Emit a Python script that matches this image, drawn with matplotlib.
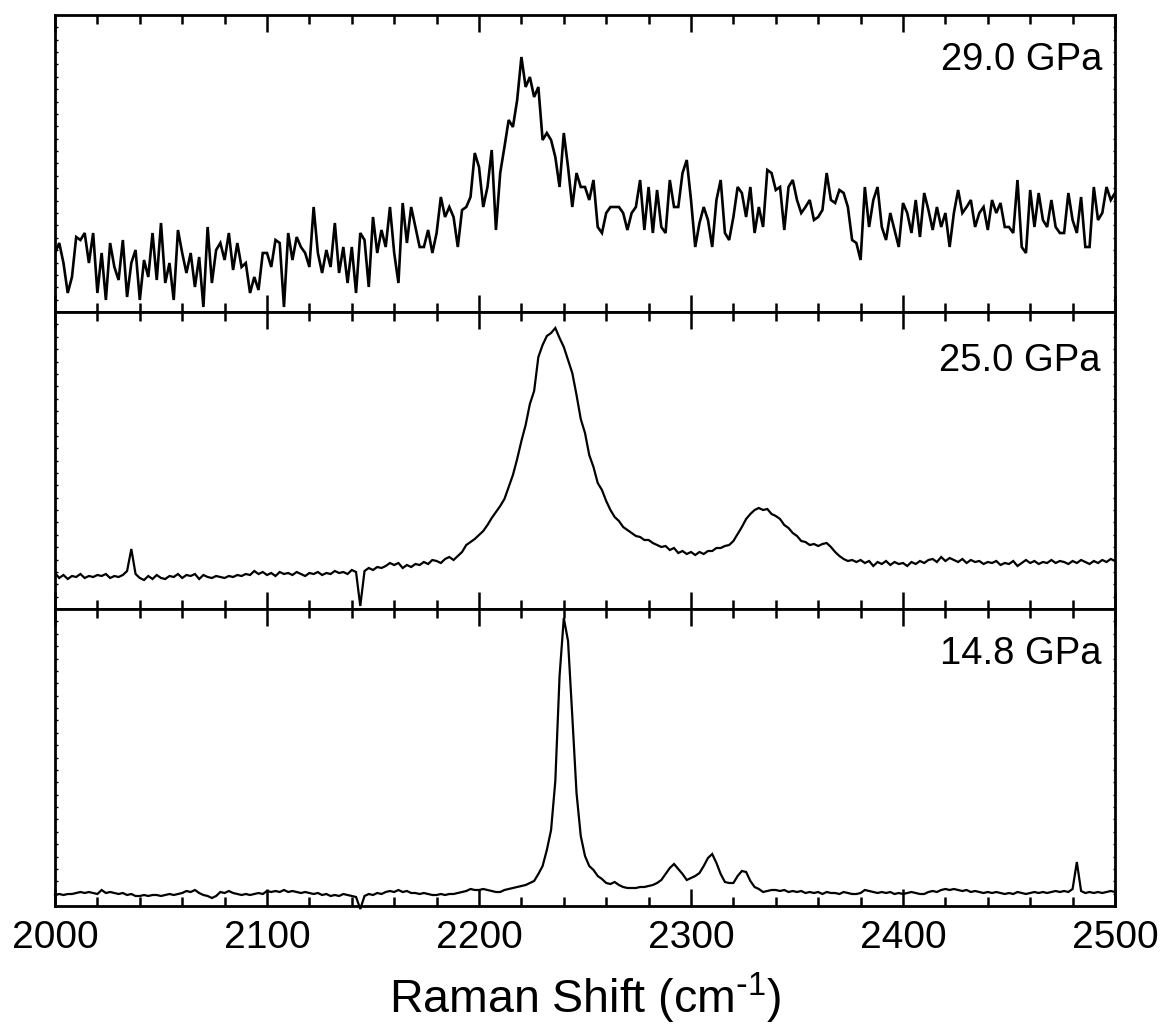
import numpy as np
import matplotlib
matplotlib.use("Agg")
import matplotlib.pyplot as plt
from matplotlib.ticker import MultipleLocator

plt.rcParams['font.family'] = ['Liberation Sans', 'DejaVu Sans']
plt.rcParams['mathtext.default'] = 'regular'

# Raman shift grid (cm^-1)
shift = np.arange(2000, 2501, 2)

# 29.0 GPa spectrum (arb. units)
int_29 = [
    59, 69, 49, 19, 35, 75, 72, 79, 49, 79,
    19, 59, 12, 69, 45, 32, 72, 15, 49, 62,
    12, 52, 35, 79, 32, 89, 29, 49, 12, 82,
    59, 39, 59, 25, 55, 5, 85, 29, 62, 69,
    52, 79, 42, 69, 45, 49, 19, 35, 22, 59,
    59, 45, 72, 69, 5, 79, 52, 75, 65, 59,
    45, 105, 59, 39, 62, 45, 89, 39, 65, 29,
    65, 19, 79, 72, 25, 95, 59, 82, 65, 105,
    59, 29, 109, 69, 105, 85, 65,
    65, 82, 59, 79, 115, 95, 105, 95, 65, 102,
    105, 115, 159, 145, 105, 125, 162, 82, 139, 165,
    192, 185, 212, 255, 225, 235, 215, 225, 172, 179,
    172, 155, 125, 179, 145, 105, 139, 125, 125, 112,
    132, 85, 79, 99, 105, 105, 105, 99, 82, 99,
    105, 132, 82, 125, 79, 122, 85, 79, 132, 105,
    105, 139, 152, 112, 65, 89, 105, 92, 65, 112,
    132, 79, 72, 95, 125, 119, 95, 125, 79, 105,
    85, 142, 139, 122,
    125, 82, 125, 132, 112, 99, 105, 112, 92, 95,
    102, 139, 112, 109, 122, 119, 105, 72, 69, 52,
    125, 85, 112, 125, 85, 72, 99, 82, 65, 109,
    99, 79, 112, 75, 119, 102, 82, 105, 85, 99,
    65, 99, 122, 99, 105, 112, 85, 99, 105, 82,
    112, 99, 109, 85, 85, 79, 132, 65, 59, 122,
    85, 119, 92, 85, 112, 85, 79, 79, 119, 92,
    79, 115, 65, 65, 125, 92, 99, 125, 112, 119,
]

# 25.0 GPa spectrum (arb. units)
int_25 = [
    36, 31, 34, 30, 33, 32, 35, 31, 33, 32,
    34, 33, 35, 31, 33, 32, 34, 38, 60, 35,
    31, 29, 33, 30, 34, 31, 30, 33, 32, 35,
    31, 34, 33, 35, 30, 34, 32, 31, 33, 32,
    31, 33, 32, 34, 33, 35, 34, 38, 35, 37,
    34, 36, 33, 37, 35, 36, 34, 37, 35, 33,
    36, 35, 37, 34, 36, 35, 38, 36, 37, 35,
    39, 37, 3, 38, 41, 39, 42, 41, 43, 46,
    44, 46,
    41, 44, 42, 45, 44, 47, 45, 49, 48, 46,
    50, 52, 49, 53, 57, 64, 67, 70, 74, 78,
    84, 91, 97, 103, 110, 122, 134, 150, 168, 184,
    205, 218, 252, 264, 273, 276, 281, 271, 262, 249,
    236, 214, 190, 176, 154, 142, 126, 119, 108, 99,
    92, 88, 82, 79, 76, 73, 72, 69, 69, 66,
    64, 62, 63, 59, 61, 56, 58, 55, 57, 54,
    57, 55, 58, 58, 61, 61, 63, 64, 68, 75,
    82, 90, 95, 99, 101, 99, 100, 95, 93,
    90, 84, 81, 76, 73, 68, 67, 64, 65, 63,
    65, 66, 62, 57, 53, 50, 48, 49, 47, 49,
    46, 48, 43, 47, 45, 48, 44, 47, 45, 46,
    43, 47, 45, 48, 46, 49, 50, 47, 52, 48,
    51, 49, 47, 50, 46, 49, 47, 48, 45, 47,
    46, 48, 44, 46, 45, 48, 43, 46, 49, 46,
    48, 45, 47, 46, 49, 46, 48, 47, 45, 48,
    46, 49, 47, 45, 48, 46, 49, 47, 50, 48,
]

# 14.8 GPa spectrum (arb. units)
int_14 = [
    11, 12, 11, 12, 12, 13, 14, 13, 14, 13,
    12, 16, 13, 14, 13, 12, 13, 11, 12, 10,
    10, 11, 10, 11, 11, 10, 11, 12, 11, 12,
    13, 15, 14, 16, 13, 11, 10, 8, 10, 14,
    13, 15, 13, 12, 11, 12, 11, 12, 13, 12,
    15, 14, 15, 14, 16, 14, 15, 14, 13, 14,
    13, 12, 13, 11, 12, 10, 11, 10, 12, 11,
    10, 9, -3, 10, 12, 11, 13, 12, 14, 15,
    14, 16,
    14, 15, 13, 13, 12, 13, 12, 11, 11, 12,
    11, 12, 12, 13, 14, 15, 17, 16, 16, 17,
    16, 15, 14, 14, 16, 17, 18, 19, 20, 21,
    23, 25, 32, 40, 56, 76, 125, 230, 288, 265,
    190, 113, 70, 50, 40, 36, 30, 27, 23, 22,
    24, 21, 19, 18, 18, 18, 19, 19, 20, 21,
    23, 26, 32, 38, 42, 37, 32, 26, 28, 30,
    33, 40, 48, 52, 43, 32, 24, 23, 23, 30,
    35, 34, 25, 19, 17, 14, 15, 16, 16,
    15, 16, 14, 15, 14, 15, 13, 14, 13, 14,
    12, 14, 13, 13, 12, 14, 13, 12, 12, 13,
    16, 15, 14, 13, 14, 13, 14, 12, 13, 12,
    13, 14, 13, 12, 12, 14, 15, 14, 16, 17,
    16, 17, 16, 15, 16, 14, 15, 14, 13, 14,
    13, 14, 13, 12, 13, 12, 14, 13, 12, 13,
    14, 13, 14, 13, 14, 15, 14, 15, 14, 17,
    44, 15, 13, 14, 13, 14, 13, 14, 15, 14,
]

labels = ["29.0 GPa", "25.0 GPa", "14.8 GPa"]
spectra = [int_29, int_25, int_14]
xticks = [2000, 2100, 2200, 2300, 2400, 2500]

W, H = 1161, 1027
fig = plt.figure(figsize=(W / 100, H / 100), dpi=100)

left, right = 55 / W, 1115 / W
panel_px = [(15, 312), (312, 609), (609, 906)]
label_pos = [(0.9877, 0.815), (0.9865, 0.802), (0.9875, 0.815)]
lws = [1.9, 1.6, 1.6]

for i, (spec, lab) in enumerate(zip(spectra, labels)):
    top_px, bot_px = panel_px[i]
    ax = fig.add_axes([left, (H - bot_px) / H, right - left, (bot_px - top_px) / H])
    ax.plot(shift, spec, color='black', lw=lws[i], clip_on=(i != 2),
            solid_joinstyle='miter')
    ax.set_xlim(2000, 2500)
    ax.set_ylim(0, 297)
    ax.xaxis.set_major_locator(MultipleLocator(100))
    ax.xaxis.set_minor_locator(MultipleLocator(20))
    ax.yaxis.set_major_locator(MultipleLocator(12.375))
    ax.tick_params(axis='x', which='major', direction='in', length=12, width=1.8,
                   top=True, bottom=True, labelsize=28, pad=10,
                   labelbottom=(i == 2))
    ax.tick_params(axis='x', which='minor', direction='in', length=6.5, width=1.8,
                   top=True, bottom=True)
    ax.tick_params(axis='y', which='major', direction='in', length=1.8, width=1,
                   left=True, right=True, labelleft=False)
    ax.tick_params(axis='y', which='minor', left=False, right=False)
    for s in ax.spines.values():
        s.set_linewidth(2.0)
    if i == 2:
        ax.set_xticks(xticks)
        ax.set_xticklabels([str(t) for t in xticks])
    ax.text(label_pos[i][0], label_pos[i][1], lab, transform=ax.transAxes,
            ha='right', va='baseline', fontsize=27.5)

fig.text(585 / W, (H - 1013) / H, r'Raman Shift (cm$^{\text{-}1}$)', ha='center',
         va='baseline', fontsize=33.5)

fig.savefig('out.png', dpi=100)
